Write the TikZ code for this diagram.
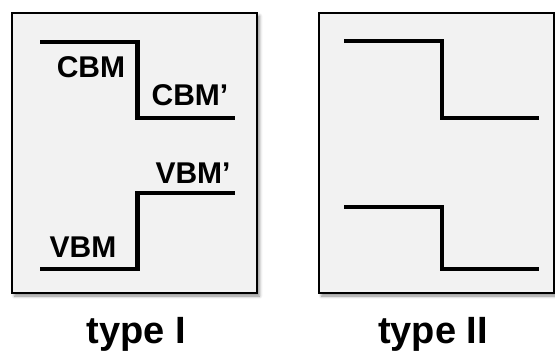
\documentclass[tikz,border=0pt]{standalone}
\usepackage{fontspec}
\setmainfont{Liberation Sans}
\usetikzlibrary{shadows.blur}
\begin{document}
\begin{tikzpicture}[x=1pt,y=-1pt,
  panel/.style={draw=black,line width=1.2pt,fill=black!5,
    blur shadow={shadow xshift=2.5pt,shadow yshift=-3pt,shadow blur radius=3pt,shadow opacity=45}},
  level/.style={line width=4.5pt,line join=miter,line cap=butt},
  bandlabel/.style={font=\bfseries\fontsize{30}{30}\selectfont,anchor=base,inner sep=0pt},
  typelabel/.style={font=\bfseries\fontsize{38}{38}\selectfont,anchor=base,inner sep=0pt}]
\useasboundingbox (0,0) rectangle (555,356);
% panels
\path[panel] (12,13) rectangle (257,293);
\path[panel] (319,13) rectangle (554,293);
% type I levels
\draw[level] (40,42) -- (137.5,42) -- (137.5,118) -- (235,118);
\draw[level] (40,269) -- (137.5,269) -- (137.5,193) -- (235,193);
% type II levels
\draw[level] (344,41) -- (442,41) -- (442,118) -- (539,118);
\draw[level] (344,207) -- (442,207) -- (442,269) -- (539,269);
% labels
\node[bandlabel] (cbm) at (91,77) {CBM};
\node[bandlabel] (cbmp) at (190,105) {CBM’};
\node[bandlabel] (vbmp) at (193,183) {VBM’};
\node[bandlabel] (vbm) at (83,257) {VBM};
\node[typelabel] (t1) at (136,343) {type I};
\node[typelabel] (t2) at (433,343) {type II};
\end{tikzpicture}
\end{document}
